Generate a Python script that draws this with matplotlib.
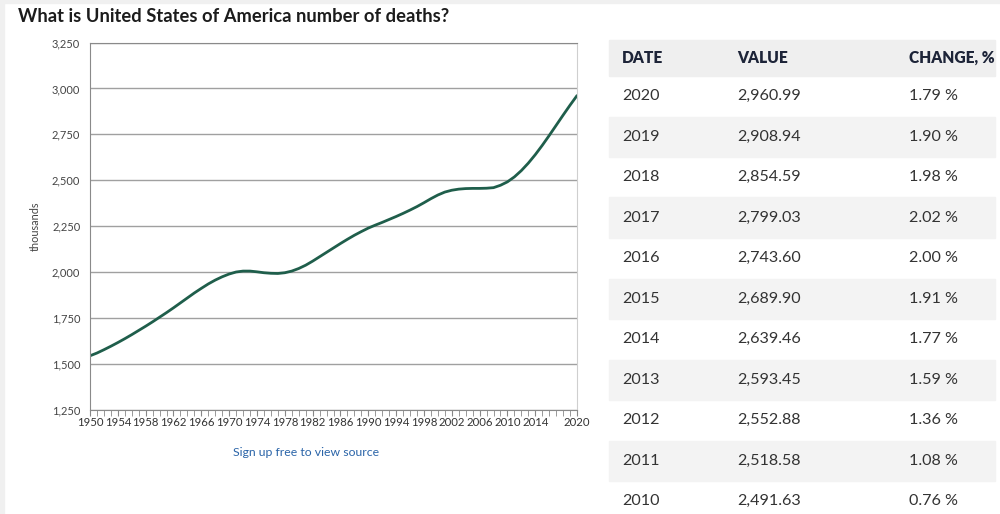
import numpy as np
import matplotlib
matplotlib.use('Agg')
import matplotlib.pyplot as plt
import matplotlib.patches as mpatches

plt.rcParams['font.family'] = ['Lato', 'DejaVu Sans']

# annual deaths, thousands (2010-2020 from the table)
years = list(range(1950, 2021))
deaths = [
    1545, 1560, 1578, 1597, 1617, 1638, 1660, 1683, 1706, 1730,
    1755, 1780, 1806, 1833, 1860, 1887, 1912, 1936, 1957, 1975,
    1990, 2001, 2006, 2006, 2002, 1997, 1994, 1993, 1997, 2006,
    2020, 2038, 2060, 2084, 2108, 2132, 2156, 2179, 2201, 2221,
    2240, 2256, 2271, 2287, 2303, 2320, 2338, 2357, 2378, 2400,
    2420, 2436, 2446, 2452, 2455, 2456, 2456, 2457, 2460, 2473,
    2491.63, 2518.58, 2552.88, 2593.45, 2639.46, 2689.90, 2743.60,
    2799.03, 2854.59, 2908.94, 2960.99,
]

tbl_dates = ['2020', '2019', '2018', '2017', '2016', '2015', '2014',
             '2013', '2012', '2011', '2010']
tbl_values = ['2,960.99', '2,908.94', '2,854.59', '2,799.03', '2,743.60',
              '2,689.90', '2,639.46', '2,593.45', '2,552.88', '2,518.58',
              '2,491.63']
tbl_change = ['1.79 %', '1.90 %', '1.98 %', '2.02 %', '2.00 %', '1.91 %',
              '1.77 %', '1.59 %', '1.36 %', '1.08 %', '0.76 %']

y_ticks = [1250, 1500, 1750, 2000, 2250, 2500, 2750, 3000, 3250]
x_labels = list(range(1950, 2015, 4)) + [2020]

W, H = 1000, 514
fig = plt.figure(figsize=(W / 100, H / 100), dpi=100)

# page frame: light strip at top and left
fig.patches.append(mpatches.Rectangle((0, 1 - 3 / H), 1, 3 / H, transform=fig.transFigure,
                                      color='#f0f0f0', zorder=0))
fig.patches.append(mpatches.Rectangle((0, 0), 4 / W, 1, transform=fig.transFigure,
                                      color='#f0f0f0', zorder=0))

fig.text(18 / W, 1 - 16 / H, 'What is United States of America number of deaths?',
         fontsize=13.2, fontweight='bold', color='#1c1c1c', va='center', ha='left')

# chart
ax = fig.add_axes([90 / W, 1 - 410 / H, (577 - 90) / W, (410 - 42.5) / H])
ax.plot(years, deaths, color='#1f5e4b', lw=2, solid_capstyle='round')
ax.set_xlim(1950, 2020)
ax.set_ylim(1250, 3250)
ax.set_yticks(y_ticks)
ax.set_yticklabels([f'{v:,}' for v in y_ticks], fontsize=8, color='#444444')
ax.tick_params(axis='y', length=0, pad=7)
ax.grid(axis='y', color='#a0a0a0', lw=1)
ax.set_axisbelow(True)
ax.set_xticks(x_labels)
ax.set_xticklabels([str(y) for y in x_labels], fontsize=8.2, color='#333333')
ax.set_xticks(years, minor=True)
ax.tick_params(axis='x', which='both', length=4, color='#888888', pad=1, direction='out')
for side in ('left', 'bottom', 'top'):
    ax.spines[side].set_color('#8a8a8a')
ax.spines['right'].set_color('#cfcfcf')
ax.set_ylabel('thousands', fontsize=7.8, color='#444444', labelpad=8)

fig.text(306 / W, 1 - 452 / H, 'Sign up free to view source', fontsize=8.8,
         color='#2a64a8', ha='center', va='center')

# table
row_h = 40.5
head_top, head_bot = 40, 76
fig.patches.append(mpatches.Rectangle((609 / W, 1 - head_bot / H), (995 - 609) / W,
                                      (head_bot - head_top) / H, transform=fig.transFigure,
                                      color='#efefef', zorder=0))
for txt, x in zip(['DATE', 'VALUE', 'CHANGE, %'], [622, 737, 909]):
    fig.text(x / W, 1 - 58 / H, txt, fontsize=11.2, fontweight='heavy', color='#1d2438',
             va='center', ha='left')

for i, (d, v, c) in enumerate(zip(tbl_dates, tbl_values, tbl_change)):
    top = head_bot + i * row_h
    if i % 2 == 1:
        fig.patches.append(mpatches.Rectangle((609 / W, 1 - (top + row_h) / H), (995 - 609) / W,
                                              row_h / H, transform=fig.transFigure,
                                              color='#f3f3f3', zorder=0))
    yc = 1 - (top + row_h / 2) / H
    fig.text(622 / W, yc, d, fontsize=11.6, color='#333333', va='center', ha='left')
    fig.text(737 / W, yc, v, fontsize=11.6, color='#333333', va='center', ha='left')
    fig.text(909 / W, yc, c, fontsize=11.6, color='#333333', va='center', ha='left')

fig.savefig('out.png', dpi=100)
